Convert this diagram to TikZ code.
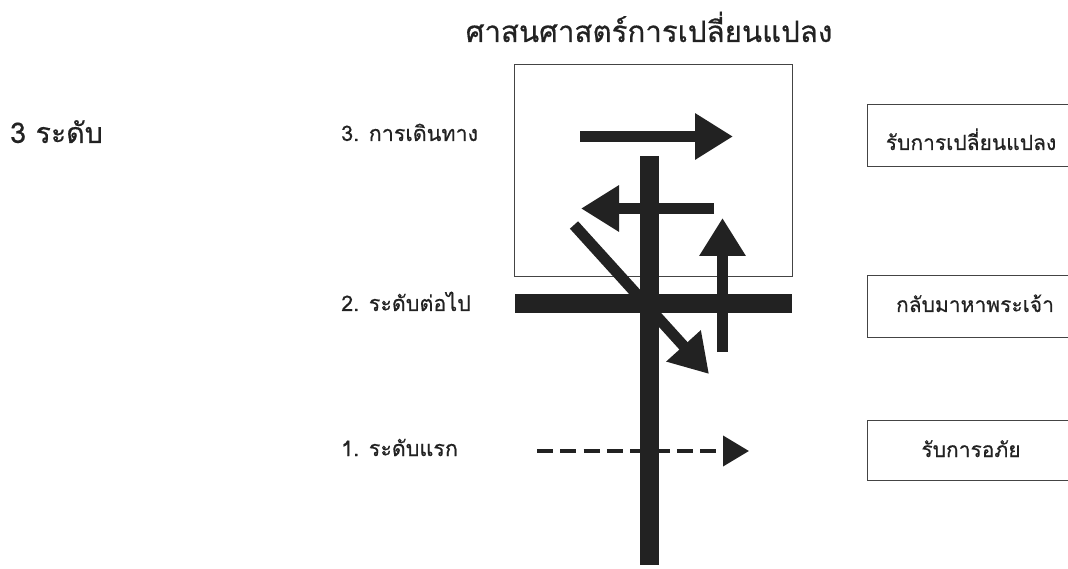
\documentclass[tikz,border=0pt]{standalone}
\usepackage{fontspec}
\newfontfamily\thai[Script=Thai,FakeBold=0.5]{Loma}
\usetikzlibrary{arrows.meta}
\definecolor{ink}{HTML}{222222}
\definecolor{frame}{HTML}{444444}
\tikzset{
  lbl/.style={font=\thai\fontsize{21.5}{26}\selectfont, text=ink, anchor=base west, inner sep=0pt},
  rtxt/.style={font=\thai\fontsize{21}{25}\selectfont, text=ink, anchor=base, inner sep=0pt},
  bar/.style={draw=ink, line width=19pt},
  arr/.style={draw=ink, line width=11pt, -{Triangle[length=38pt,width=44pt]}},
  dasharr/.style={draw=ink, line width=4pt, dash pattern=on 16pt off 7.3pt, -{Triangle[length=26pt,width=30pt]}},
  frm/.style={draw=frame, line width=1pt}
}
\begin{document}
\begin{tikzpicture}[x=1pt,y=-1pt]
\useasboundingbox (0,0) rectangle (1068,569);
\clip (0,0) rectangle (1068,569);
% title and left labels
\node[font=\thai\fontsize{29.5}{34}\selectfont, text=ink, anchor=base, inner sep=0pt] (title) at (649,42) {ศาสนศาสตร์การเปลี่ยนแปลง};
\node[font=\thai\fontsize{28.5}{33}\selectfont, text=ink, anchor=base west, inner sep=0pt] (levels) at (10,143) {3 ระดับ};
\node[lbl] (l3) at (341,141) {3. การเดินทาง};
\node[lbl] (l2) at (341,311) {2. ระดับต่อไป};
\node[lbl] (l1) at (341,456) {1. ระดับแรก};
% frame
\draw[frm] (514,65) rectangle (792,277);
% right boxes
\draw[frm] (867,105) rectangle (1080,167);
\draw[frm] (867,276) rectangle (1080,337);
\draw[frm] (867,420) rectangle (1080,480);
\node[rtxt] (r3) at (971,150) {รับการเปลี่ยนแปลง};
\node[rtxt] (r2) at (975,312) {กลับมาหาพระเจ้า};
\node[rtxt] (r1) at (971,457) {รับการอภัย};
% coordinates
\coordinate (vt) at (649.5,156);
\coordinate (vb) at (649.5,565);
\coordinate (hl) at (515,303.5);
\coordinate (hr) at (792,303.5);
\coordinate (a1s) at (580,136.5);
\coordinate (a1e) at (733,136.5);
\coordinate (a2s) at (714,208.5);
\coordinate (a2e) at (581,208.5);
\coordinate (a3s) at (722.5,352);
\coordinate (a3e) at (722.5,218);
\coordinate (a4s) at (574,225);
\coordinate (a4e) at (709,374);
\coordinate (ds) at (537,451);
\coordinate (de) at (749,451);
% cross
\draw[bar] (vt) -- (vb);
\draw[bar] (hl) -- (hr);
% arrows
\draw[arr] (a1s) -- (a1e);
\draw[arr] (a2s) -- (a2e);
\draw[arr] (a3s) -- (a3e);
\draw[arr] (a4s) -- (a4e);
\draw[dasharr] (ds) -- (de);
\end{tikzpicture}
\end{document}
